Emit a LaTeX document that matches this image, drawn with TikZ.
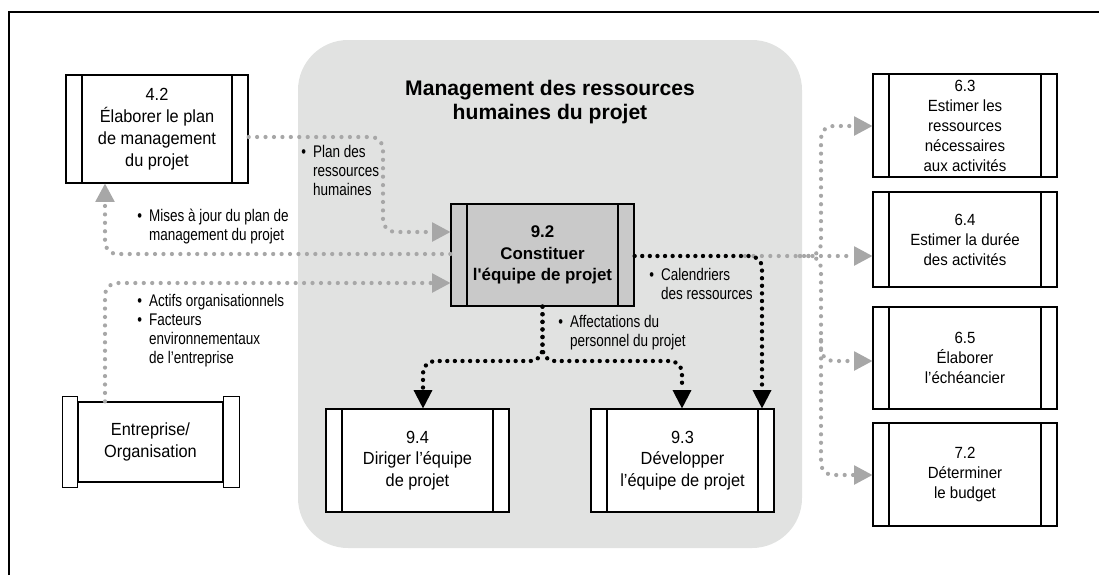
\documentclass[tikz,border=0pt]{standalone}
\usepackage{fontspec}
\setmainfont{Liberation Sans}
\newfontfamily\boxfont[FakeStretch=0.93]{Liberation Sans}
\newfontfamily\lblfont[FakeStretch=0.8]{Liberation Sans}
\usetikzlibrary{arrows.meta}
\definecolor{regiongray}{RGB}{225,226,225}
\definecolor{boxgray}{RGB}{201,201,201}
\definecolor{arrowgray}{RGB}{167,167,167}
\newcommand{\bul}{\makebox[0.7em][l]{\textbullet}}
\newcommand{\nobul}{\hspace*{0.7em}}
\tikzset{
  procbox/.style={draw, line width=0.9pt, fill=white, align=center, inner sep=0pt,
    font=\boxfont\fontsize{12.5}{15.5}\selectfont,
    path picture={
      \draw[line width=0.9pt] ([xshift=0.4cm]path picture bounding box.north west) -- ([xshift=0.4cm]path picture bounding box.south west);
      \draw[line width=0.9pt] ([xshift=-0.4cm]path picture bounding box.north east) -- ([xshift=-0.4cm]path picture bounding box.south east);}},
  sidebox/.style={procbox, font=\boxfont\fontsize{11.5}{14.2}\selectfont, minimum width=4.6cm},
  graydots/.style={arrowgray, line width=3pt, line cap=round, dash pattern=on 0pt off 6pt, rounded corners=0.3cm},
  blackdots/.style={black, line width=3.1pt, line cap=round, dash pattern=on 0pt off 5.4pt, rounded corners=0.3cm},
  graytip/.style={-{Triangle[length=13pt,width=14pt,line width=0pt]}},
  blacktip/.style={-{Triangle[length=13pt,width=13.5pt,line width=0pt]}},
  lbl/.style={anchor=north west, align=left, inner sep=0pt, font=\lblfont\fontsize{12}{13.5}\selectfont}
}
\begin{document}
\begin{tikzpicture}[x=0.025cm,y=-0.025cm]
  \useasboundingbox (0,0) rectangle (1099,575);
  \draw[line width=1.4pt] (9,575) -- (9,12) -- (1099,12);
  \fill[regiongray, rounded corners=1.25cm] (298,40) rectangle (802,548);
  \node[font=\bfseries\fontsize{15}{17}\selectfont, align=center] (title) at (550,102) {Management des ressources\\humaines du projet};
  % processes
  \node[procbox, minimum width=4.55cm, minimum height=2.7cm] (p42) at (157,129) {4.2\\Élaborer le plan\\de management\\du projet};
  \node[procbox, fill=boxgray, font=\bfseries\fontsize{12}{15.5}\selectfont, minimum width=4.575cm, minimum height=2.55cm] (p92) at (542.5,255) {9.2\\Constituer\\l\textquotesingle équipe de projet};
  \node[procbox, minimum width=4.575cm, minimum height=2.575cm] (p94) at (417.5,460.5) {9.4\\Diriger l’équipe\\de projet};
  \node[procbox, minimum width=4.575cm, minimum height=2.575cm] (p93) at (682.5,460.5) {9.3\\Développer\\l’équipe de projet};
  \node[sidebox, minimum height=2.575cm] (p63) at (965,125.5) {6.3\\Estimer les\\ressources\\nécessaires\\aux activités};
  \node[sidebox, minimum height=2.375cm] (p64) at (965,239.5) {6.4\\Estimer la durée\\des activités};
  \node[sidebox, minimum height=2.55cm] (p65) at (965,358) {6.5\\Élaborer\\l’échéancier};
  \node[sidebox, minimum height=2.575cm] (p72) at (965,474.5) {7.2\\Déterminer\\le budget};
  % enterprise
  \node[draw, line width=0.9pt, fill=white, align=center, font=\boxfont\fontsize{12.5}{15.5}\selectfont, minimum width=3.625cm, minimum height=2cm] (ent) at (150.5,442) {Entreprise/\\Organisation};
  \draw[line width=0.9pt, fill=white] ([xshift=-0.375cm,yshift=0.125cm]ent.north west) rectangle ([yshift=-0.125cm]ent.south west);
  \draw[line width=0.9pt, fill=white] ([yshift=0.125cm]ent.north east) rectangle ([xshift=0.4cm,yshift=-0.125cm]ent.south east);
  % flows
  \draw[graydots, graytip] (p42.east |- 0,137) -- (383,137) -- (383,232) -- (p92.west |- 0,232);
  \draw[graydots, graytip] (p92.west |- 0,254) -- (105,254) -- (p42.south -| 105,0);
  \draw[graydots, graytip] (ent.north -| 105,0) -- (105,283) -- (p92.west |- 0,283);
  \coordinate (cal) at (745,256);
  \coordinate (fork) at (800,256);
  \coordinate (fork2) at (821,340);
  \draw[graydots, graytip] (cal) -- (p64.west |- 0,256);
  \draw[graydots, graytip] (fork) -- (821,256) -- (821,126) -- (p63.west |- 0,126);
  \draw[graydots, graytip] (fork) -- (821,256) -- (821,475) -- (p72.west |- 0,475);
  \draw[graydots, graytip] (fork2) -- (821,361) -- (p65.west |- 0,361);
  \draw[blackdots, blacktip] (p92.east |- 0,256) -- (762,256) -- (p93.north -| 762,0);
  \draw[blackdots, blacktip] (p92.south) -- (p92.south |- 0,361) -- (423,361) -- (p94.north -| 423,0);
  \draw[blackdots, blacktip] (p92.south) -- (p92.south |- 0,361) -- (682,361) -- (p93.north -| 682,0);
  % labels
  \node[lbl] (lplan) at (301,145) {\bul Plan des\\\nobul ressources\\\nobul humaines};
  \node[lbl] (lmaj) at (137,209) {\bul Mises à jour du plan de\\\nobul management du projet};
  \node[lbl] (lactifs) at (137,294) {\bul Actifs organisationnels\\\bul Facteurs\\\nobul environnementaux\\\nobul de l’entreprise};
  \node[lbl] (lcal) at (649,268) {\bul Calendriers\\\nobul des ressources};
  \node[lbl] (laff) at (558,315) {\bul Affectations du\\\nobul personnel du projet};
\end{tikzpicture}
\end{document}
